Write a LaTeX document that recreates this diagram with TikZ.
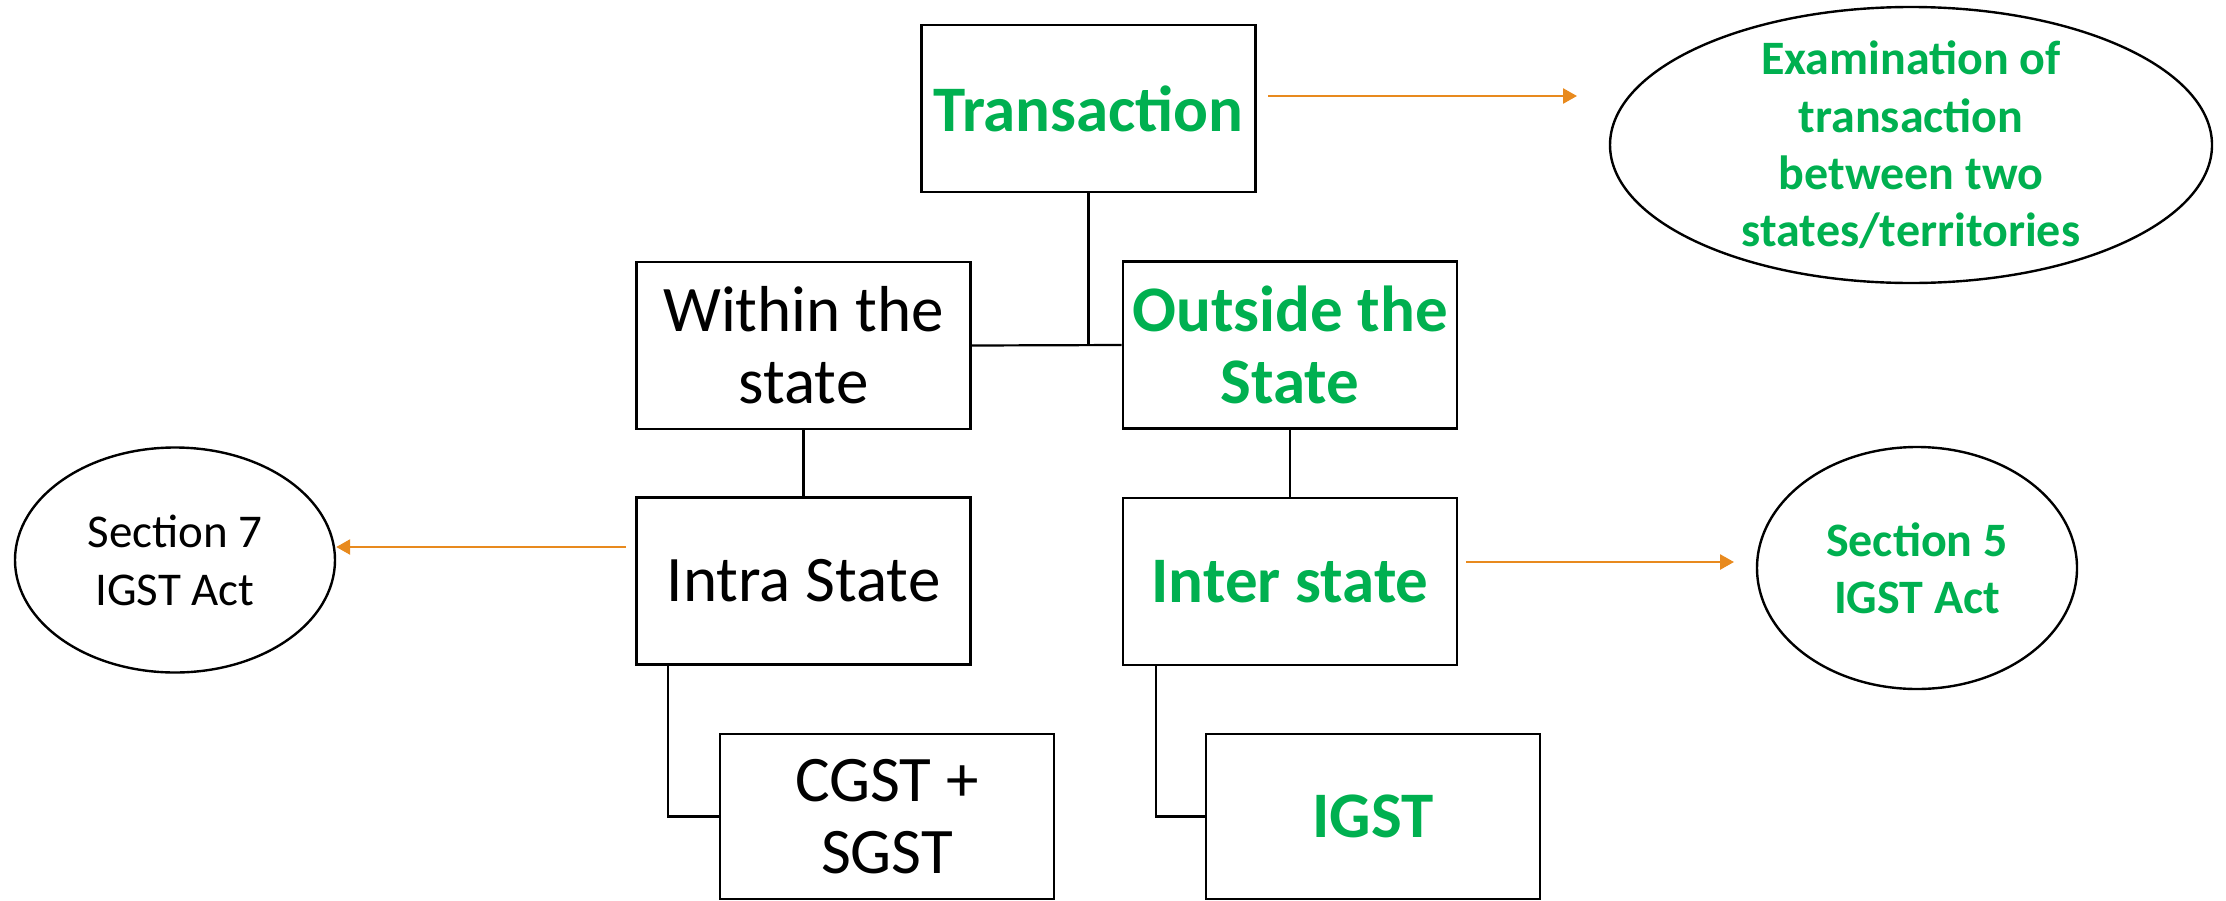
\documentclass[tikz,border=0pt]{standalone}
\usepackage{fontspec}
\setmainfont{Carlito}
\usetikzlibrary{arrows.meta,shapes.geometric}
\definecolor{ggreen}{RGB}{0,176,80}
\definecolor{aorange}{RGB}{232,138,30}
\begin{document}
\begin{tikzpicture}[x=0.5pt,y=-0.5pt,
  box/.style={draw=black,line width=1.4pt,rectangle,inner sep=0pt,align=center,
    minimum width=167pt,minimum height=83.5pt,font=\fontsize{32.5}{36}\selectfont},
  gbox/.style={box,text=ggreen,font=\fontsize{32.5}{36}\selectfont\bfseries},
  oval/.style={draw=black,line width=1.2pt,ellipse,inner sep=0pt},
  ovaltext/.style={inner sep=0pt,align=center,font=\fontsize{23.5}{29}\selectfont},
  govaltext/.style={ovaltext,text=ggreen,font=\fontsize{24}{28.7}\selectfont\bfseries},
  link/.style={draw=black,line width=1.1pt},
  arr/.style={draw=aorange,line width=1.3pt,-{Triangle[length=7pt,width=7.5pt]}}]
\useasboundingbox (0,0) rectangle (2226,900);

% boxes
\node[gbox] (trans) at (1088.5,108.5) {Transaction};
\node[box] (within) at (803.5,345.5) {Within the\\state};
\node[gbox] (outside) at (1290,345) {Outside the\\State};
\node[box] (intra) at (803.5,581) {Intra State};
\node[gbox] (inter) at (1290,581.5) {Inter state};
\node[box,minimum height=82.5pt] (cgst) at (887,816.5) {CGST +\\SGST};
\node[gbox,minimum height=82.5pt] (igst) at (1373,816.5) {IGST};

% ellipses
\node[oval,minimum width=301pt,minimum height=138pt] (exam) at (1911,145) {};
\node[govaltext] (examt) at (exam.center) {Examination of\\transaction\\between two\\states/territories};
\node[oval,minimum width=160pt,minimum height=112.5pt] (sec7) at (175,560) {};
\node[ovaltext] (sec7t) at (sec7.center) {Section 7\\IGST Act};
\node[oval,minimum width=160pt,minimum height=121pt] (sec5) at (1917,568) {};
\node[govaltext] (sec5t) at (sec5.center) {Section 5\\IGST Act};

% tree connectors
\draw[link] (within.east) -- (outside.west);
\draw[link] (trans.south) -- (trans.south |- within.east);
\draw[link] (within.south) -- (intra.north);
\draw[link] (outside.south) -- (inter.north);
\draw[link] ([xshift=16.5pt]intra.south west) |- (cgst.west);
\draw[link] ([xshift=17pt]inter.south west) |- (igst.west);

% orange arrows
\coordinate (a1s) at (1268,96);
\coordinate (a1e) at (1577,96);
\draw[arr] (a1s) -- (a1e);
\coordinate (a2s) at (626,547);
\draw[arr] (a2s) -- (sec7.east |- a2s);
\coordinate (a3s) at (1466,562);
\coordinate (a3e) at (1734,562);
\draw[arr] (a3s) -- (a3e);
\end{tikzpicture}
\end{document}
